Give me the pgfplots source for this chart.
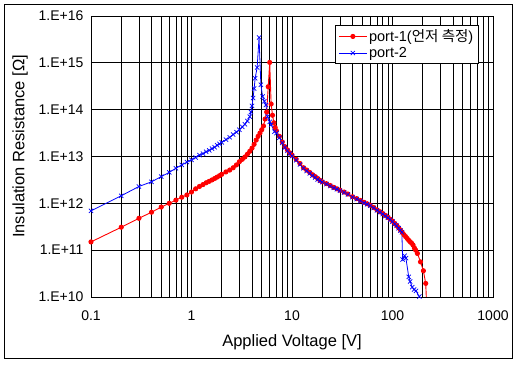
\documentclass[border=0pt]{standalone}
\usepackage{pgfplots}
\pgfplotsset{compat=1.18}
\usepackage{fontspec}
\setmainfont{Liberation Sans}
\newfontfamily\cjk{Noto Sans CJK KR}
\begin{document}
\begin{tikzpicture}
\path[use as bounding box] (-91bp,-68bp) rectangle (429bp,297bp);
\draw[line width=1bp] (-86bp,-61bp) rectangle (421bp,292bp);
\begin{axis}[
  at={(0,0)}, anchor=south west,
  width=402bp, height=281bp, scale only axis,
  xmode=log, ymode=log,
  xmin=0.1, xmax=1000, ymin=1e10, ymax=1e16,
  xtick={0.1,1,10,100,1000}, xticklabels={0.1,1,10,100,1000},
  minor xtick={0.2,0.3,0.4,0.5,0.6,0.7,0.8,0.9,2,3,4,5,6,7,8,9,20,30,40,50,60,70,80,90,200,300,400,500,600,700,800,900},
  ytick={1e10,1e11,1e12,1e13,1e14,1e15,1e16},
  yticklabels={1.E+10,1.E+11,1.E+12,1.E+13,1.E+14,1.E+15,1.E+16},
  xmajorgrids=true, xminorgrids=true, ymajorgrids=true, yminorgrids=false,
  major grid style={black, line width=0.8bp},
  minor grid style={black, line width=0.8bp},
  axis line style={black, line width=0.9bp},
  major tick length=0pt, minor tick length=0pt,
  tick label style={font=\fontsize{14bp}{16bp}\selectfont, black},
  xticklabel style={anchor=center, yshift=-19bp},
  yticklabel style={anchor=east, xshift=-4bp},
  xlabel={Applied Voltage [V]},
  ylabel={Insulation Resistance [Ω]},
  label style={font=\fontsize{16.5bp}{19bp}\selectfont},
  xlabel style={at={([yshift=-45bp]axis description cs:0.5,0)}, anchor=center},
  ylabel style={at={([xshift=-71bp]axis description cs:0,0.536)}, anchor=center},
  legend style={at={(axis description cs:0.607,0.968)}, anchor=north west,
    draw=black, line width=0.8bp, fill=white, inner xsep=3bp, inner ysep=2.5bp,
    font=\fontsize{14.5bp}{17bp}\selectfont, row sep=0.5bp,
    nodes={inner sep=1.8bp}},
  legend cell align=left,
  legend image code/.code={\draw[mark repeat=2,mark phase=2] plot coordinates {(0bp,0bp) (14bp,0bp) (28bp,0bp)};},
]
\addplot[red, line width=0.9bp, mark=*, mark size=2.1bp, mark options={fill=red, draw=red}] coordinates {
(0.1,1.50e11) (0.2,3.09e11) (0.3,4.79e11) (0.4,6.46e11) (0.5,8.32e11) (0.6,1.00e12)
(0.7,1.17e12) (0.8,1.35e12) (0.9,1.51e12) (1.0,1.74e12) (1.1,2.04e12) (1.2,2.29e12)
(1.3,2.51e12) (1.4,2.75e12) (1.5,2.95e12) (1.6,3.16e12) (1.7,3.39e12) (1.8,3.63e12)
(1.9,3.89e12) (2.0,4.17e12) (2.2,4.68e12) (2.4,5.13e12) (2.6,5.75e12) (2.8,6.61e12)
(3.0,7.76e12) (3.2,8.71e12) (3.4,9.77e12) (3.6,1.12e13) (3.8,1.29e13) (4.0,1.51e13)
(4.2,1.82e13) (4.4,2.24e13) (4.6,2.69e13) (4.8,3.16e13) (5.0,3.72e13) (5.2,4.47e13)
(5.4,6.31e13) (5.6,8.91e13) (5.8,3.09e14) (6.0,1.02e15) (6.2,1.32e14) (6.4,7.59e13)
(6.6,5.25e13) (6.8,4.17e13) (7.0,3.55e13) (7.5,2.69e13) (8.0,2.04e13) (8.5,1.62e13)
(9.0,1.38e13) (9.5,1.20e13) (10,1.07e13) (11,8.71e12) (12,7.08e12) (13,5.75e12)
(14,5.13e12) (15,4.57e12) (16,4.07e12) (17,3.72e12) (18,3.39e12) (19,3.09e12)
(20,2.88e12) (22,2.63e12) (24,2.40e12) (26,2.19e12) (28,2.04e12) (30,1.91e12)
(33,1.74e12) (36,1.58e12) (40,1.38e12) (44,1.26e12) (48,1.15e12) (52,1.05e12)
(56,9.77e11) (60,9.12e11) (65,8.13e11) (70,7.24e11) (75,6.61e11) (80,6.03e11)
(85,5.50e11) (90,5.01e11) (95,4.57e11) (100,4.17e11) (105,3.72e11) (110,3.39e11)
(115,3.02e11) (120,2.69e11) (125,2.40e11) (130,2.14e11) (135,1.95e11) (140,1.78e11)
(145,1.62e11) (150,1.51e11) (155,1.41e11) (160,1.29e11) (165,1.12e11) (170,1.00e11)
(177,8.51e10) (190,5.62e10) (203,3.63e10) (214,1.95e10) (220,5e9)
};
\addlegendentry{port-1({\cjk 언저 측정})}
\addplot[blue, line width=0.8bp, mark=x, mark size=3bp, mark options={blue, line width=0.7bp}] coordinates {
(0.1,6.92e11) (0.2,1.45e12) (0.3,2.29e12) (0.4,2.88e12) (0.5,3.72e12) (0.6,4.57e12)
(0.7,5.62e12) (0.8,6.61e12) (0.9,7.59e12) (1.0,8.51e12) (1.1,9.55e12) (1.2,1.07e13)
(1.3,1.15e13) (1.4,1.26e13) (1.5,1.35e13) (1.6,1.48e13) (1.7,1.58e13) (1.8,1.74e13)
(1.9,1.86e13) (2.0,2.00e13) (2.2,2.29e13) (2.4,2.57e13) (2.6,2.95e13) (2.8,3.31e13)
(3.0,3.72e13) (3.2,4.27e13) (3.4,4.90e13) (3.6,5.75e13) (3.8,7.08e13) (3.9,8.91e13)
(4.0,1.20e14) (4.1,1.78e14) (4.2,2.82e14) (4.3,4.68e14) (4.5,7.94e14) (4.7,3.47e15)
(4.9,3.39e14) (5.1,1.91e14) (5.3,1.51e14) (5.5,1.26e14) (5.7,7.08e13) (6.0,5.50e13)
(6.2,4.79e13) (6.7,3.39e13) (7.0,3.16e13) (7.5,2.51e13) (8.0,1.95e13) (8.5,1.55e13)
(9.0,1.32e13) (9.5,1.15e13) (10,1.02e13) (11,8.32e12) (12,6.76e12) (13,5.62e12)
(14,4.90e12) (15,4.37e12) (16,3.89e12) (17,3.55e12) (18,3.24e12) (19,3.02e12)
(20,2.82e12) (22,2.57e12) (24,2.34e12) (26,2.14e12) (28,2.00e12) (30,1.86e12)
(33,1.70e12) (36,1.55e12) (40,1.35e12) (44,1.23e12) (48,1.12e12) (52,1.02e12)
(56,9.55e11) (60,8.91e11) (65,7.94e11) (70,7.08e11) (75,6.46e11) (80,5.89e11)
(85,5.37e11) (90,4.90e11) (95,4.47e11) (100,4.07e11) (105,3.63e11) (110,3.31e11)
(115,2.95e11) (120,2.63e11) (124,2.40e11) (126,6.31e10) (132,7.59e10) (136,6.76e10)
(145,2.69e10) (150,2.14e10) (157,1.62e10) (164,1.45e10) (171,1.35e10) (185,1.02e10)
};
\addlegendentry{port-2}
\end{axis}
\end{tikzpicture}
\end{document}
